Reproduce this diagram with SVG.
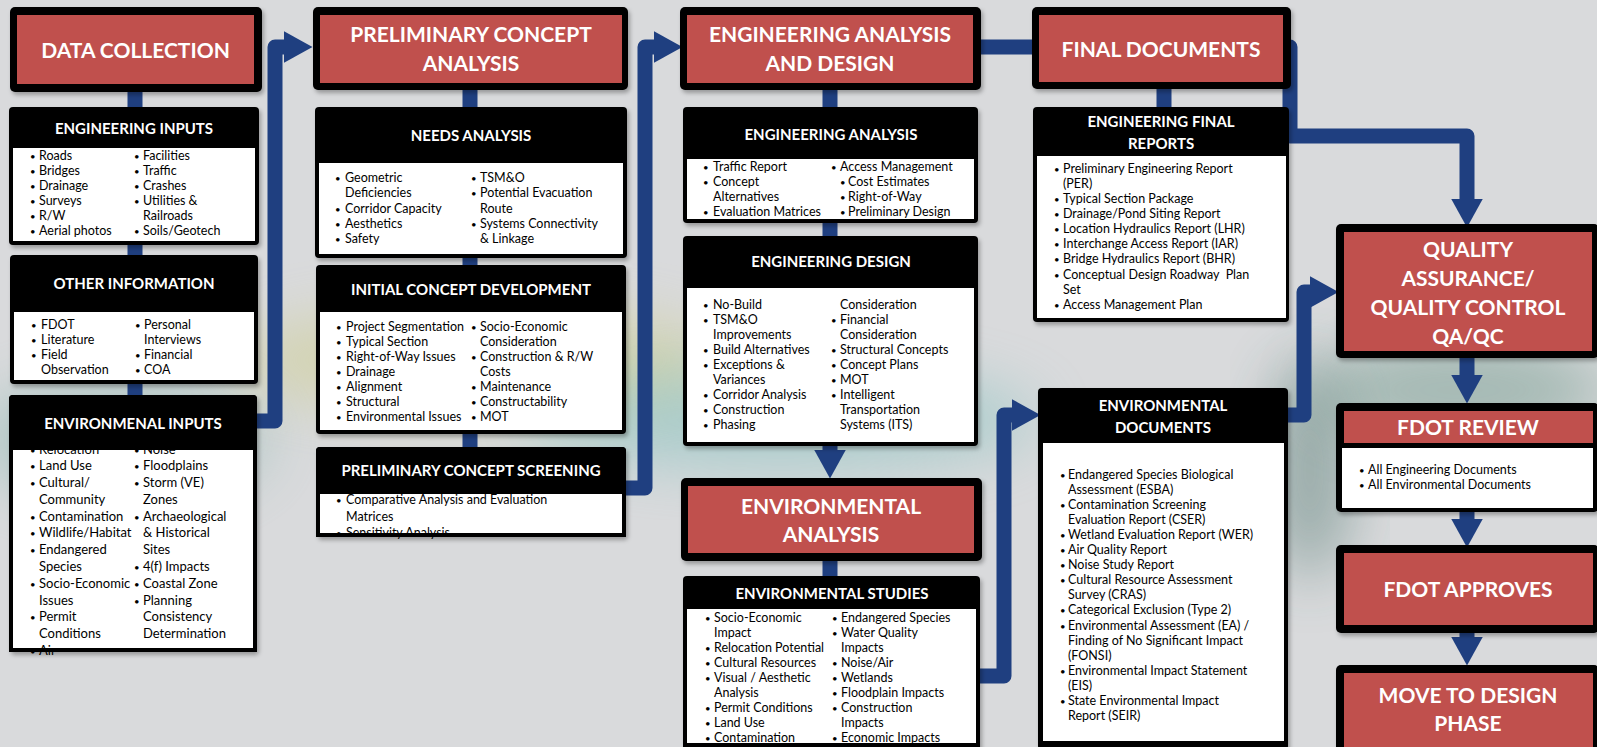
<svg xmlns="http://www.w3.org/2000/svg" width="1597" height="747" viewBox="0 0 1597 747">
<style>
.hdr{fill:#fff;font-family:Lato,"Liberation Sans",sans-serif;font-weight:bold;font-size:21px;text-anchor:middle}
.sub{fill:#fff;font-family:Lato,"Liberation Sans",sans-serif;font-weight:bold;font-size:15px;text-anchor:middle}
.t{fill:#000;font-family:Lato,"Liberation Sans",sans-serif;font-size:12.5px}
.t13{font-size:13px}
.b{font-size:9.5px}
.blk{fill:#000}
.sh{filter:url(#shadow)}
.red{fill:#C0504D}
.wht{fill:#fff}
.conn{fill:none;stroke:#1F3F80;stroke-width:15;stroke-linejoin:round}
.arr{marker-end:url(#ah)}
</style>
<defs>
<marker id="ah" markerUnits="userSpaceOnUse" markerWidth="29" markerHeight="32" viewBox="0 0 29 32" refX="0.5" refY="16" orient="auto">
<path d="M0,0 L29,16 L0,32 z" fill="#1F3F80"/>
</marker>
<filter id="blur" x="-50%" y="-50%" width="200%" height="200%"><feGaussianBlur stdDeviation="30"/></filter>
<filter id="shadow" x="-10%" y="-10%" width="120%" height="130%"><feDropShadow dx="2" dy="3" stdDeviation="2" flood-color="#000" flood-opacity="0.3"/></filter>
</defs>

<g id="background">
<rect width="1597" height="747" fill="#d9dadc"/>
<ellipse cx="120" cy="440" rx="150" ry="60" fill="#7fb0a8" opacity="0.45" filter="url(#blur)"/>
<ellipse cx="480" cy="360" rx="250" ry="50" fill="#c9c86a" opacity="0.4" filter="url(#blur)"/>
<ellipse cx="780" cy="420" rx="260" ry="50" fill="#58b5b0" opacity="0.35" filter="url(#blur)"/>
<ellipse cx="1310" cy="470" rx="40" ry="110" fill="#2f5f55" opacity="0.4" filter="url(#blur)"/>
<ellipse cx="1460" cy="390" rx="150" ry="50" fill="#3f7a66" opacity="0.35" filter="url(#blur)"/>
</g>

<g id="connectors">
<path class="conn" d="M135 92 V395"/>
<path class="conn arr" d="M257 421 H275 V47 H284"/>
<path class="conn" d="M470 90 V447"/>
<path class="conn arr" d="M626 488 H645 V47 H654"/>
<path class="conn" d="M830 90 V236"/>
<path class="conn arr" d="M830 440 V450"/>
<path class="conn" d="M830 561 V576"/>
<path class="conn" d="M981 47 H1040"/>
<path class="conn" d="M1164 89 V107"/>
<path class="conn arr" d="M1280 47 H1290 V136 H1467 V199"/>
<path class="conn arr" d="M980 676 H1004 V415 H1012"/>
<path class="conn arr" d="M1288 415 H1304 V292 H1310"/>
<path class="conn arr" d="M1467 358 V375"/>
<path class="conn arr" d="M1467 512 V519"/>
<path class="conn arr" d="M1467 633 V637"/>
</g>

<g id="data-collection">
<rect class="blk sh" x="10" y="7" width="252" height="85" rx="5"/>
<rect class="red" x="17" y="15" width="237" height="69"/>
<text class="hdr" x="135.5" y="58">DATA COLLECTION</text>
</g>

<g id="engineering-inputs">
<rect class="blk sh" x="9" y="107" width="250" height="138" rx="4"/>
<rect class="wht" x="13" y="148" width="242" height="93"/>
<text class="sub" x="134" y="134">ENGINEERING INPUTS</text>
<text class="t" y="160"><tspan class="b" x="30">•</tspan><tspan x="39">Roads</tspan><tspan class="b" x="134">•</tspan><tspan x="143">Facilities</tspan></text>
<text class="t" y="175"><tspan class="b" x="30">•</tspan><tspan x="39">Bridges</tspan><tspan class="b" x="134">•</tspan><tspan x="143">Traffic</tspan></text>
<text class="t" y="190"><tspan class="b" x="30">•</tspan><tspan x="39">Drainage</tspan><tspan class="b" x="134">•</tspan><tspan x="143">Crashes</tspan></text>
<text class="t" y="205"><tspan class="b" x="30">•</tspan><tspan x="39">Surveys</tspan><tspan class="b" x="134">•</tspan><tspan x="143">Utilities &amp;</tspan></text>
<text class="t" y="220"><tspan class="b" x="30">•</tspan><tspan x="39">R/W</tspan><tspan x="143">Railroads</tspan></text>
<text class="t" y="235"><tspan class="b" x="30">•</tspan><tspan x="39">Aerial photos</tspan><tspan class="b" x="134">•</tspan><tspan x="143">Soils/Geotech</tspan></text>
</g>

<g id="other-information">
<rect class="blk sh" x="10" y="255" width="248" height="129" rx="4"/>
<rect class="wht" x="14" y="312" width="240" height="68"/>
<text class="sub" x="134" y="289">OTHER INFORMATION</text>
<text class="t" y="329"><tspan class="b" x="31">•</tspan><tspan x="41">FDOT</tspan><tspan class="b" x="135">•</tspan><tspan x="144">Personal</tspan></text>
<text class="t" y="344"><tspan class="b" x="31">•</tspan><tspan x="41">Literature</tspan><tspan x="144">Interviews</tspan></text>
<text class="t" y="359"><tspan class="b" x="31">•</tspan><tspan x="41">Field</tspan><tspan class="b" x="135">•</tspan><tspan x="144">Financial</tspan></text>
<text class="t" y="374"><tspan x="41">Observation</tspan><tspan class="b" x="135">•</tspan><tspan x="144">COA</tspan></text>
</g>

<g id="environmental-inputs">
<rect class="blk sh" x="9" y="395" width="248" height="257" rx="4"/>
<rect class="wht" x="13" y="450" width="240" height="198"/>
<text class="t t13" y="454"><tspan class="b" x="30">•</tspan><tspan x="39">Relocation</tspan><tspan class="b" x="134">•</tspan><tspan x="143">Noise</tspan></text>
<text class="t t13" y="470.1"><tspan class="b" x="30">•</tspan><tspan x="39">Land Use</tspan><tspan class="b" x="134">•</tspan><tspan x="143">Floodplains</tspan></text>
<text class="t t13" y="486.9"><tspan class="b" x="30">•</tspan><tspan x="39">Cultural/</tspan><tspan class="b" x="134">•</tspan><tspan x="143">Storm (VE)</tspan></text>
<text class="t t13" y="503.7"><tspan x="39">Community</tspan><tspan x="143">Zones</tspan></text>
<text class="t t13" y="520.5"><tspan class="b" x="30">•</tspan><tspan x="39">Contamination</tspan><tspan class="b" x="134">•</tspan><tspan x="143">Archaeological</tspan></text>
<text class="t t13" y="537.3"><tspan class="b" x="30">•</tspan><tspan x="39">Wildlife/Habitat</tspan><tspan x="143">&amp; Historical</tspan></text>
<text class="t t13" y="554.1"><tspan class="b" x="30">•</tspan><tspan x="39">Endangered</tspan><tspan x="143">Sites</tspan></text>
<text class="t t13" y="570.9"><tspan x="39">Species</tspan><tspan class="b" x="134">•</tspan><tspan x="143">4(f) Impacts</tspan></text>
<text class="t t13" y="587.7"><tspan class="b" x="30">•</tspan><tspan x="39">Socio-Economic</tspan><tspan class="b" x="134">•</tspan><tspan x="143">Coastal Zone</tspan></text>
<text class="t t13" y="604.5"><tspan x="39">Issues</tspan><tspan class="b" x="134">•</tspan><tspan x="143">Planning</tspan></text>
<text class="t t13" y="621.3"><tspan class="b" x="30">•</tspan><tspan x="39">Permit</tspan><tspan x="143">Consistency</tspan></text>
<text class="t t13" y="638.1"><tspan x="39">Conditions</tspan><tspan x="143">Determination</tspan></text>
<text class="t t13" y="654.9"><tspan class="b" x="30">•</tspan><tspan x="39">Air</tspan></text>
<rect class="blk" x="9" y="395" width="248" height="55" rx="4"/>
<rect class="blk" x="9" y="648" width="248" height="4"/>
<text class="sub" x="133" y="429">ENVIRONMENAL INPUTS</text>
</g>

<g id="preliminary-concept-analysis">
<rect class="blk sh" x="313" y="7" width="315" height="83" rx="5"/>
<rect class="red" x="320" y="15" width="302" height="68"/>
<text class="hdr" x="471" y="42">PRELIMINARY CONCEPT</text>
<text class="hdr" x="471" y="71">ANALYSIS</text>
</g>

<g id="needs-analysis">
<rect class="blk sh" x="315" y="107" width="312" height="151" rx="4"/>
<rect class="wht" x="319" y="163" width="304" height="91"/>
<text class="sub" x="471" y="141">NEEDS ANALYSIS</text>
<text class="t" y="182"><tspan class="b" x="335">•</tspan><tspan x="345">Geometric</tspan><tspan class="b" x="471">•</tspan><tspan x="480">TSM&amp;O</tspan></text>
<text class="t" y="197"><tspan x="345">Deficiencies</tspan><tspan class="b" x="471">•</tspan><tspan x="480">Potential Evacuation</tspan></text>
<text class="t" y="212.5"><tspan class="b" x="335">•</tspan><tspan x="345">Corridor Capacity</tspan><tspan x="480">Route</tspan></text>
<text class="t" y="227.5"><tspan class="b" x="335">•</tspan><tspan x="345">Aesthetics</tspan><tspan class="b" x="471">•</tspan><tspan x="480">Systems Connectivity</tspan></text>
<text class="t" y="243"><tspan class="b" x="335">•</tspan><tspan x="345">Safety</tspan><tspan x="480">&amp; Linkage</tspan></text>
</g>

<g id="initial-concept-development">
<rect class="blk sh" x="316" y="265" width="310" height="169" rx="4"/>
<rect class="wht" x="320" y="312" width="302" height="118"/>
<text class="sub" x="471" y="295">INITIAL CONCEPT DEVELOPMENT</text>
<text class="t" y="330.5"><tspan class="b" x="336">•</tspan><tspan x="346">Project Segmentation</tspan><tspan class="b" x="471">•</tspan><tspan x="480">Socio-Economic</tspan></text>
<text class="t" y="345.5"><tspan class="b" x="336">•</tspan><tspan x="346">Typical Section</tspan><tspan x="480">Consideration</tspan></text>
<text class="t" y="360.5"><tspan class="b" x="336">•</tspan><tspan x="346">Right-of-Way Issues</tspan><tspan class="b" x="471">•</tspan><tspan x="480">Construction &amp; R/W</tspan></text>
<text class="t" y="375.5"><tspan class="b" x="336">•</tspan><tspan x="346">Drainage</tspan><tspan x="480">Costs</tspan></text>
<text class="t" y="391"><tspan class="b" x="336">•</tspan><tspan x="346">Alignment</tspan><tspan class="b" x="471">•</tspan><tspan x="480">Maintenance</tspan></text>
<text class="t" y="406"><tspan class="b" x="336">•</tspan><tspan x="346">Structural</tspan><tspan class="b" x="471">•</tspan><tspan x="480">Constructability</tspan></text>
<text class="t" y="421"><tspan class="b" x="336">•</tspan><tspan x="346">Environmental Issues</tspan><tspan class="b" x="471">•</tspan><tspan x="480">MOT</tspan></text>
</g>

<g id="preliminary-concept-screening">
<rect class="blk sh" x="316" y="447" width="310" height="90" rx="4"/>
<rect class="wht" x="320" y="494" width="302" height="39"/>
<text class="t" y="503.5"><tspan class="b" x="336">•</tspan><tspan x="346">Comparative Analysis and Evaluation</tspan></text>
<text class="t" y="520.5"><tspan x="346">Matrices</tspan></text>
<text class="t" y="537"><tspan class="b" x="336">•</tspan><tspan x="346">Sensitivity Analysis</tspan></text>
<rect class="blk" x="316" y="447" width="310" height="47" rx="4"/>
<rect class="blk" x="316" y="533" width="310" height="4"/>
<text class="sub" x="471" y="476">PRELIMINARY CONCEPT SCREENING</text>
</g>

<g id="engineering-analysis-and-design">
<rect class="blk sh" x="680" y="7" width="301" height="83" rx="5"/>
<rect class="red" x="687" y="15" width="286" height="68"/>
<text class="hdr" x="830" y="42">ENGINEERING ANALYSIS</text>
<text class="hdr" x="830" y="71">AND DESIGN</text>
</g>

<g id="engineering-analysis">
<rect class="blk sh" x="683" y="107" width="295" height="116" rx="4"/>
<rect class="wht" x="687" y="159" width="287" height="60"/>
<text class="sub" x="831" y="140">ENGINEERING ANALYSIS</text>
<text class="t" y="170.5"><tspan class="b" x="703">•</tspan><tspan x="713">Traffic Report</tspan><tspan class="b" x="831">•</tspan><tspan x="840">Access Management</tspan></text>
<text class="t" y="186"><tspan class="b" x="703">•</tspan><tspan x="713">Concept</tspan><tspan class="b" x="840">•</tspan><tspan x="848">Cost Estimates</tspan></text>
<text class="t" y="201"><tspan x="713">Alternatives</tspan><tspan class="b" x="840">•</tspan><tspan x="848">Right-of-Way</tspan></text>
<text class="t" y="216"><tspan class="b" x="703">•</tspan><tspan x="713">Evaluation Matrices</tspan><tspan class="b" x="840">•</tspan><tspan x="848">Preliminary Design</tspan></text>
</g>

<g id="engineering-design">
<rect class="blk sh" x="683" y="236" width="295" height="210" rx="4"/>
<rect class="wht" x="687" y="288" width="287" height="154"/>
<text class="sub" x="831" y="267">ENGINEERING DESIGN</text>
<text class="t" y="308.5"><tspan class="b" x="703">•</tspan><tspan x="713">No-Build</tspan><tspan x="840">Consideration</tspan></text>
<text class="t" y="323.5"><tspan class="b" x="703">•</tspan><tspan x="713">TSM&amp;O</tspan><tspan class="b" x="831">•</tspan><tspan x="840">Financial</tspan></text>
<text class="t" y="338.5"><tspan x="713">Improvements</tspan><tspan x="840">Consideration</tspan></text>
<text class="t" y="353.5"><tspan class="b" x="703">•</tspan><tspan x="713">Build Alternatives</tspan><tspan class="b" x="831">•</tspan><tspan x="840">Structural Concepts</tspan></text>
<text class="t" y="369"><tspan class="b" x="703">•</tspan><tspan x="713">Exceptions &amp;</tspan><tspan class="b" x="831">•</tspan><tspan x="840">Concept Plans</tspan></text>
<text class="t" y="384"><tspan x="713">Variances</tspan><tspan class="b" x="831">•</tspan><tspan x="840">MOT</tspan></text>
<text class="t" y="399"><tspan class="b" x="703">•</tspan><tspan x="713">Corridor Analysis</tspan><tspan class="b" x="831">•</tspan><tspan x="840">Intelligent</tspan></text>
<text class="t" y="414"><tspan class="b" x="703">•</tspan><tspan x="713">Construction</tspan><tspan x="840">Transportation</tspan></text>
<text class="t" y="429"><tspan class="b" x="703">•</tspan><tspan x="713">Phasing</tspan><tspan x="840">Systems (ITS)</tspan></text>
</g>

<g id="environmental-analysis">
<rect class="blk sh" x="681" y="478" width="301" height="83" rx="5"/>
<rect class="red" x="688" y="486" width="286" height="67"/>
<text class="hdr" x="831" y="514">ENVIRONMENTAL</text>
<text class="hdr" x="831" y="542">ANALYSIS</text>
</g>

<g id="environmental-studies">
<rect class="blk sh" x="683" y="576" width="297" height="175" rx="4"/>
<rect class="wht" x="687" y="609" width="289" height="134"/>
<text class="sub" x="832" y="599">ENVIRONMENTAL STUDIES</text>
<text class="t" y="621.5"><tspan class="b" x="705">•</tspan><tspan x="714">Socio-Economic</tspan><tspan class="b" x="832">•</tspan><tspan x="841">Endangered Species</tspan></text>
<text class="t" y="636.5"><tspan x="714">Impact</tspan><tspan class="b" x="832">•</tspan><tspan x="841">Water Quality</tspan></text>
<text class="t" y="651.5"><tspan class="b" x="705">•</tspan><tspan x="714">Relocation Potential</tspan><tspan x="841">Impacts</tspan></text>
<text class="t" y="666.5"><tspan class="b" x="705">•</tspan><tspan x="714">Cultural Resources</tspan><tspan class="b" x="832">•</tspan><tspan x="841">Noise/Air</tspan></text>
<text class="t" y="681.5"><tspan class="b" x="705">•</tspan><tspan x="714">Visual / Aesthetic</tspan><tspan class="b" x="832">•</tspan><tspan x="841">Wetlands</tspan></text>
<text class="t" y="696.5"><tspan x="714">Analysis</tspan><tspan class="b" x="832">•</tspan><tspan x="841">Floodplain Impacts</tspan></text>
<text class="t" y="711.5"><tspan class="b" x="705">•</tspan><tspan x="714">Permit Conditions</tspan><tspan class="b" x="832">•</tspan><tspan x="841">Construction</tspan></text>
<text class="t" y="726.5"><tspan class="b" x="705">•</tspan><tspan x="714">Land Use</tspan><tspan x="841">Impacts</tspan></text>
<text class="t" y="741.5"><tspan class="b" x="705">•</tspan><tspan x="714">Contamination</tspan><tspan class="b" x="832">•</tspan><tspan x="841">Economic Impacts</tspan></text>
</g>

<g id="final-documents">
<rect class="blk sh" x="1032" y="7" width="259" height="82" rx="5"/>
<rect class="red" x="1039" y="15" width="244" height="67"/>
<text class="hdr" x="1161" y="57">FINAL DOCUMENTS</text>
</g>

<g id="engineering-final-reports">
<rect class="blk sh" x="1033" y="107" width="256" height="215" rx="4"/>
<rect class="wht" x="1037" y="156" width="249" height="162"/>
<text class="sub" x="1161" y="127">ENGINEERING FINAL</text>
<text class="sub" x="1161" y="149">REPORTS</text>
<text class="t" y="172.5"><tspan class="b" x="1054">•</tspan><tspan x="1063">Preliminary Engineering Report</tspan></text>
<text class="t" y="187.5"><tspan x="1063">(PER)</tspan></text>
<text class="t" y="202.5"><tspan class="b" x="1054">•</tspan><tspan x="1063">Typical Section Package</tspan></text>
<text class="t" y="217.5"><tspan class="b" x="1054">•</tspan><tspan x="1063">Drainage/Pond Siting Report</tspan></text>
<text class="t" y="233"><tspan class="b" x="1054">•</tspan><tspan x="1063">Location Hydraulics Report (LHR)</tspan></text>
<text class="t" y="248"><tspan class="b" x="1054">•</tspan><tspan x="1063">Interchange Access Report (IAR)</tspan></text>
<text class="t" y="263"><tspan class="b" x="1054">•</tspan><tspan x="1063">Bridge Hydraulics Report (BHR)</tspan></text>
<text class="t" y="279" xml:space="preserve"><tspan class="b" x="1054">•</tspan><tspan x="1063">Conceptual Design Roadway  Plan</tspan></text>
<text class="t" y="294"><tspan x="1063">Set</tspan></text>
<text class="t" y="308.5"><tspan class="b" x="1054">•</tspan><tspan x="1063">Access Management Plan</tspan></text>
</g>

<g id="environmental-documents">
<rect class="blk sh" x="1038" y="388" width="250" height="362" rx="4"/>
<rect class="wht" x="1043" y="443" width="241" height="298"/>
<text class="sub" x="1163" y="411">ENVIRONMENTAL</text>
<text class="sub" x="1163" y="433">DOCUMENTS</text>
<text class="t" y="478.5"><tspan class="b" x="1060">•</tspan><tspan x="1068">Endangered Species Biological</tspan></text>
<text class="t" y="493.6"><tspan x="1068">Assessment (ESBA)</tspan></text>
<text class="t" y="508.7"><tspan class="b" x="1060">•</tspan><tspan x="1068">Contamination Screening</tspan></text>
<text class="t" y="523.8"><tspan x="1068">Evaluation Report (CSER)</tspan></text>
<text class="t" y="538.9"><tspan class="b" x="1060">•</tspan><tspan x="1068">Wetland Evaluation Report (WER)</tspan></text>
<text class="t" y="554"><tspan class="b" x="1060">•</tspan><tspan x="1068">Air Quality Report</tspan></text>
<text class="t" y="569.1"><tspan class="b" x="1060">•</tspan><tspan x="1068">Noise Study Report</tspan></text>
<text class="t" y="584.2"><tspan class="b" x="1060">•</tspan><tspan x="1068">Cultural Resource Assessment</tspan></text>
<text class="t" y="599.3"><tspan x="1068">Survey (CRAS)</tspan></text>
<text class="t" y="614.4"><tspan class="b" x="1060">•</tspan><tspan x="1068">Categorical Exclusion (Type 2)</tspan></text>
<text class="t" y="629.5"><tspan class="b" x="1060">•</tspan><tspan x="1068">Environmental Assessment (EA) /</tspan></text>
<text class="t" y="644.6"><tspan x="1068">Finding of No Significant Impact</tspan></text>
<text class="t" y="659.7"><tspan x="1068">(FONSI)</tspan></text>
<text class="t" y="674.8"><tspan class="b" x="1060">•</tspan><tspan x="1068">Environmental Impact Statement</tspan></text>
<text class="t" y="689.9"><tspan x="1068">(EIS)</tspan></text>
<text class="t" y="705"><tspan class="b" x="1060">•</tspan><tspan x="1068">State Environmental Impact</tspan></text>
<text class="t" y="720.1"><tspan x="1068">Report (SEIR)</tspan></text>
</g>

<g id="qa-qc">
<rect class="blk sh" x="1336" y="224" width="263" height="134" rx="5"/>
<rect class="red" x="1344" y="232" width="248" height="119"/>
<text class="hdr" x="1468" y="257">QUALITY</text>
<text class="hdr" x="1468" y="286">ASSURANCE/</text>
<text class="hdr" x="1468" y="315">QUALITY CONTROL</text>
<text class="hdr" x="1468" y="344">QA/QC</text>
</g>

<g id="fdot-review">
<rect class="blk sh" x="1336" y="403" width="263" height="109" rx="5"/>
<rect class="red" x="1344" y="411" width="249" height="32"/>
<rect class="wht" x="1342" y="448" width="251" height="60"/>
<text class="hdr" x="1468" y="435">FDOT REVIEW</text>
<text class="t" y="473.5"><tspan class="b" x="1359">•</tspan><tspan x="1368">All Engineering Documents</tspan></text>
<text class="t" y="488.5"><tspan class="b" x="1359">•</tspan><tspan x="1368">All Environmental Documents</tspan></text>
</g>

<g id="fdot-approves">
<rect class="blk sh" x="1336" y="545" width="263" height="88" rx="5"/>
<rect class="red" x="1344" y="553" width="249" height="72"/>
<text class="hdr" x="1468" y="597">FDOT APPROVES</text>
</g>

<g id="move-to-design-phase">
<rect class="blk sh" x="1336" y="665" width="263" height="90" rx="5"/>
<rect class="red" x="1344" y="673" width="249" height="80"/>
<text class="hdr" x="1468" y="703">MOVE TO DESIGN</text>
<text class="hdr" x="1468" y="731">PHASE</text>
</g>
</svg>
